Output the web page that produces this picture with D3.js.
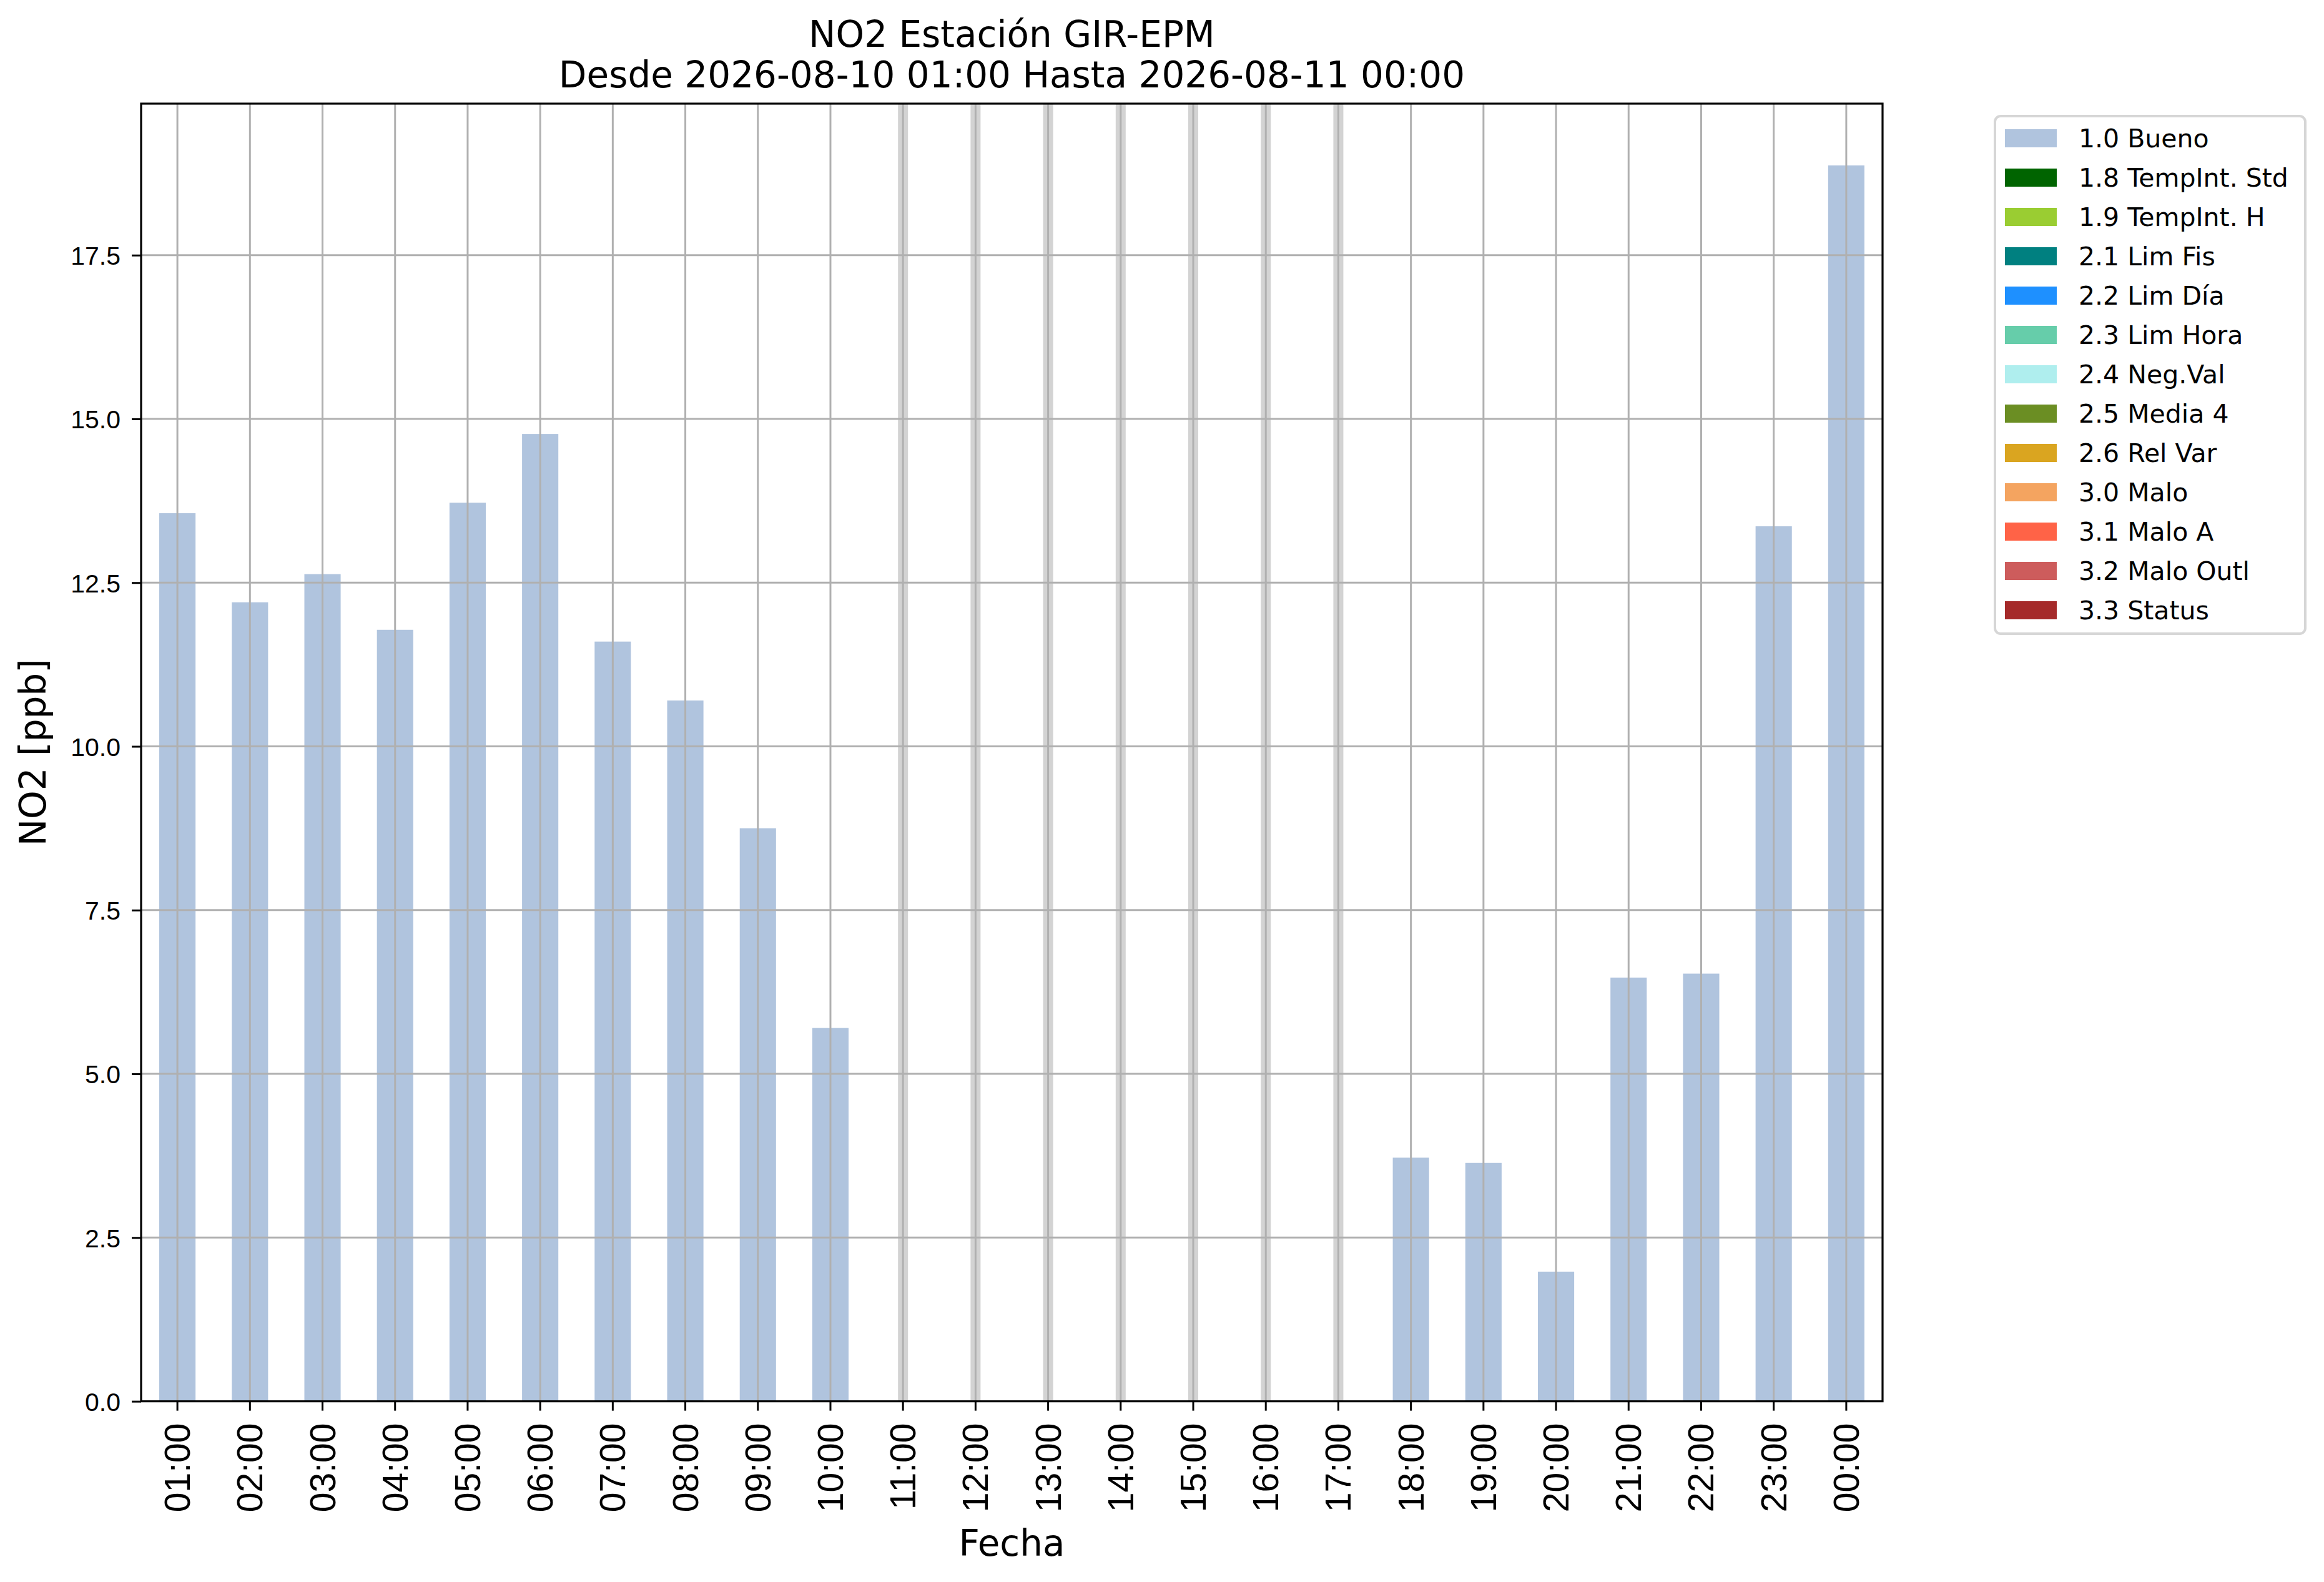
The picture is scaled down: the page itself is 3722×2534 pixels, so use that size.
<!DOCTYPE html>
<html>
<head>
<meta charset="utf-8">
<script src="https://cdn.jsdelivr.net/npm/d3@7/dist/d3.min.js"></script>
<style>
  html, body { margin: 0; padding: 0; background: #ffffff; }
  svg { display: block; font-family: "DejaVu Sans", sans-serif; }
</style>
</head>
<body>
<div id="chart"></div>
<script>
// hours shown on the x axis
const hours = [
  "01:00","02:00","03:00","04:00","05:00","06:00","07:00","08:00",
  "09:00","10:00","11:00","12:00","13:00","14:00","15:00","16:00",
  "17:00","18:00","19:00","20:00","21:00","22:00","23:00","00:00"
];

// NO2 hourly values (ppb), null = no data
const no2Values = [
  13.56, 12.20, 12.63, 11.78, 13.72, 14.77, 11.60, 10.70,
  8.75, 5.70, null, null, null, null, null, null,
  null, 3.72, 3.64, 1.98, 6.47, 6.53, 13.36, 18.87
];

const yTicks = [0, 2.5, 5.0, 7.5, 10.0, 12.5, 15.0, 17.5];

const legendLabels = [
  "1.0 Bueno","1.8 TempInt. Std","1.9 TempInt. H","2.1 Lim Fis","2.2 Lim Día",
  "2.3 Lim Hora","2.4 Neg.Val","2.5 Media 4","2.6 Rel Var","3.0 Malo",
  "3.1 Malo A","3.2 Malo Outl","3.3 Status"
];
const legendColors = [
  "#b0c4de","#006400","#9acd32","#008080","#1e90ff",
  "#66cdaa","#afeeee","#6b8e23","#daa520","#f4a460",
  "#ff6347","#cd5c5c","#a52a2a"
];

const titleLines = [
  "NO2 Estación GIR-EPM",
  "Desde 2026-08-10 01:00 Hasta 2026-08-11 00:00"
];

const W = 3722, H = 2534;
const m = { left: 226, right: 3015, top: 166, bottom: 2244.6 };
const gridColor = "#b0b0b0";

const svg = d3.select("#chart").append("svg")
  .attr("width", W)
  .attr("height", H);

svg.append("rect").attr("width", W).attr("height", H).attr("fill", "#ffffff");

const x = d3.scaleBand()
  .domain(hours)
  .range([m.left, m.right])
  .paddingInner(0.5)
  .paddingOuter(0.25);

const yMax = d3.max(no2Values) * 1.05;
const y = d3.scaleLinear()
  .domain([0, yMax])
  .range([m.bottom, m.top]);

const data = hours.map((h, i) => ({ hour: h, value: no2Values[i] }));
const xc = h => x(h) + x.bandwidth() / 2;

// bars
svg.append("g")
  .selectAll("rect")
  .data(data.filter(d => d.value !== null))
  .join("rect")
  .attr("x", d => x(d.hour))
  .attr("width", x.bandwidth())
  .attr("y", d => y(d.value))
  .attr("height", d => y(0) - y(d.value))
  .attr("fill", "#b0c4de");

// light gray bands for hours without data
svg.append("g")
  .selectAll("rect")
  .data(data.filter(d => d.value === null))
  .join("rect")
  .attr("x", d => xc(d.hour) - 8)
  .attr("width", 16)
  .attr("y", m.top)
  .attr("height", m.bottom - m.top)
  .attr("fill", "#d3d3d3");

// grid (drawn over bars, as in the original)
svg.append("g")
  .selectAll("line")
  .data(hours)
  .join("line")
  .attr("x1", d => xc(d)).attr("x2", d => xc(d))
  .attr("y1", m.top).attr("y2", m.bottom)
  .attr("stroke", gridColor)
  .attr("stroke-width", 3);

svg.append("g")
  .selectAll("line")
  .data(yTicks)
  .join("line")
  .attr("x1", m.left).attr("x2", m.right)
  .attr("y1", d => y(d)).attr("y2", d => y(d))
  .attr("stroke", gridColor)
  .attr("stroke-width", 3);

// axes
const xAxis = svg.append("g")
  .attr("transform", `translate(0,${m.bottom})`)
  .call(d3.axisBottom(x).tickSize(15).tickPadding(0));
xAxis.select(".domain").remove();
xAxis.selectAll(".tick line").attr("stroke", "#000").attr("stroke-width", 3);
xAxis.selectAll(".tick text")
  .attr("fill", "#000")
  .style("font-size", "57px")
  .attr("text-anchor", "end")
  .attr("dominant-baseline", "central")
  .attr("transform", "translate(0,35) rotate(-90)")
  .attr("x", 0)
  .attr("y", 0)
  .attr("dy", null);

const yAxis = svg.append("g")
  .attr("transform", `translate(${m.left},0)`)
  .call(d3.axisLeft(y).tickValues(yTicks).tickFormat(d3.format(".1f")).tickSize(15).tickPadding(18));
yAxis.select(".domain").remove();
yAxis.selectAll(".tick line").attr("stroke", "#000").attr("stroke-width", 3);
yAxis.selectAll(".tick text")
  .attr("fill", "#000")
  .style("font-size", "41px")
  .attr("dy", "0.36em");

// spines
svg.append("rect")
  .attr("x", m.left).attr("y", m.top)
  .attr("width", m.right - m.left).attr("height", m.bottom - m.top)
  .attr("fill", "none")
  .attr("stroke", "#000")
  .attr("stroke-width", 3.2);

// title
const cx = (m.left + m.right) / 2;
svg.append("text")
  .attr("x", cx).attr("y", 75)
  .attr("text-anchor", "middle")
  .style("font-size", "58px")
  .text(titleLines[0]);
svg.append("text")
  .attr("x", cx).attr("y", 140)
  .attr("text-anchor", "middle")
  .style("font-size", "58px")
  .text(titleLines[1]);

// axis labels
svg.append("text")
  .attr("x", cx).attr("y", 2492)
  .attr("text-anchor", "middle")
  .style("font-size", "58px")
  .text("Fecha");

svg.append("text")
  .attr("transform", `translate(73,${(m.top + m.bottom) / 2}) rotate(-90)`)
  .attr("text-anchor", "middle")
  .style("font-size", "58px")
  .text("NO2 [ppb]");

// legend
const lg = svg.append("g");
lg.append("rect")
  .attr("x", 3195).attr("y", 186)
  .attr("width", 497).attr("height", 829)
  .attr("rx", 9).attr("ry", 9)
  .attr("fill", "#ffffff")
  .attr("stroke", "#d6d6d6")
  .attr("stroke-width", 4);

const rowY = d3.scaleLinear().domain([0, 1]).range([221.5, 284.5]);
const items = lg.selectAll("g.item")
  .data(legendLabels.map((l, i) => ({ label: l, color: legendColors[i], i })))
  .join("g")
  .attr("class", "item")
  .attr("transform", d => `translate(0,${rowY(d.i)})`);

items.append("rect")
  .attr("x", 3211).attr("y", -14.5)
  .attr("width", 83).attr("height", 29)
  .attr("fill", d => d.color);

items.append("text")
  .attr("x", 3329).attr("y", 14.5)
  .style("font-size", "41px")
  .text(d => d.label);
</script>
</body>
</html>
